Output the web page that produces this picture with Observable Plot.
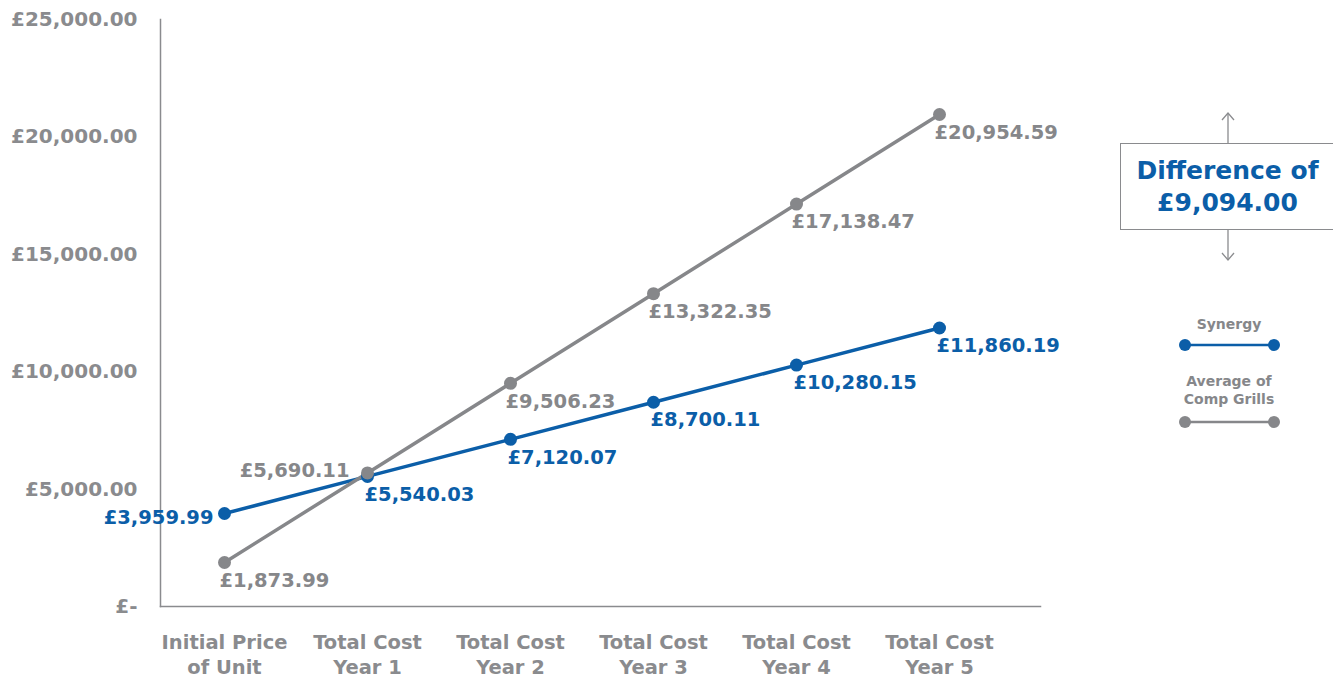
<!DOCTYPE html>
<html>
<head>
<meta charset="utf-8">
<script src="https://cdn.jsdelivr.net/npm/d3@7"></script>
<script src="https://cdn.jsdelivr.net/npm/@observablehq/plot@0.6"></script>
<style>
  html, body { margin: 0; padding: 0; background: #fff; overflow: hidden; }
  #wrap { position: relative; width: 1333px; height: 680px; font-family: "DejaVu Sans", sans-serif; }
  #chart { position: absolute; left: 0; top: 0; }
  #box { position: absolute; left: 1120px; top: 143px; width: 215px; height: 87px; border: 1.5px solid #8a8b8e; box-sizing: border-box;
         display: flex; flex-direction: column; justify-content: center; align-items: center; color: #0b5ea8; font-weight: bold; font-size: 25px; line-height: 32px; }
  #deco { position: absolute; left: 0; top: 0; }
</style>
</head>
<body>
<div id="wrap">
  <div id="chart"></div>
  <svg id="deco" width="1333" height="680"></svg>
  <div id="box"></div>
</div>
<script>
// ---- data ----
const categories = ["Initial Price of Unit", "Total Cost Year 1", "Total Cost Year 2", "Total Cost Year 3", "Total Cost Year 4", "Total Cost Year 5"];
const xTickLabels = ["Initial Price\nof Unit", "Total Cost\nYear 1", "Total Cost\nYear 2", "Total Cost\nYear 3", "Total Cost\nYear 4", "Total Cost\nYear 5"];
const seriesNames = ["Synergy", "Average of Comp Grills"];
const legendLabels = [["Synergy"], ["Average of", "Comp Grills"]];
const synergyValues = [3959.99, 5540.03, 7120.07, 8700.11, 10280.15, 11860.19];
const averageValues = [1873.99, 5690.11, 9506.23, 13322.35, 17138.47, 20954.59];
const yTicks = [0, 5000, 10000, 15000, 20000, 25000];
const yTickLabels = ["£-", "£5,000.00", "£10,000.00", "£15,000.00", "£20,000.00", "£25,000.00"];
const differenceLines = ["Difference of", "£9,094.00"];

// ---- styles ----
const BLUE = "#0b5ea8";
const GRAY = "#86878a";
const AXIS = "#8a8b8e";
const colors = [BLUE, GRAY];

const rows = [];
categories.forEach((c, i) => {
  rows.push({cat: c, i, series: seriesNames[0], value: synergyValues[i]});
  rows.push({cat: c, i, series: seriesNames[1], value: averageValues[i]});
});
const money = v => "£" + d3.format(",.2f")(v);
const isSyn = d => d.series === seriesNames[0];

const labelStyle = {x: "cat", y: "value", text: d => money(d.value), fill: "series", fontSize: 19.5, fontWeight: "bold"};

const plot = Plot.plot({
  width: 1333,
  height: 680,
  marginLeft: 160,
  marginRight: 293,
  marginTop: 19,
  marginBottom: 74,
  style: {fontFamily: "DejaVu Sans, sans-serif", fontSize: "20px", fontWeight: "bold", color: AXIS, background: "transparent"},
  x: {type: "point", domain: categories, range: [223, 940], padding: 0},
  y: {domain: [0, 25000]},
  color: {domain: seriesNames, range: colors},
  marks: [
    Plot.frame({anchor: "left", stroke: AXIS, strokeWidth: 1.5}),
    Plot.frame({anchor: "bottom", stroke: AXIS, strokeWidth: 1.5}),
    Plot.axisY({ticks: yTicks, tickFormat: d => yTickLabels[yTicks.indexOf(d)], tickSize: 0, tickPadding: 23, label: null, fontSize: 20}),
    Plot.axisX({tickFormat: d => xTickLabels[categories.indexOf(d)], tickSize: 0, tickPadding: 25, label: null, fontSize: 19.5, lineHeight: 1.28}),
    Plot.line(rows, {x: "cat", y: "value", z: "series", stroke: "series", strokeWidth: 3.5}),
    Plot.dot(rows, {x: "cat", y: "value", fill: "series", r: 6.5}),
    // Average labels: below-right, except year 1 (left)
    Plot.text(rows.filter(d => !isSyn(d) && d.i !== 1), {...labelStyle, textAnchor: "start", dx: -5, dy: 18}),
    Plot.text(rows.filter(d => !isSyn(d) && d.i === 1), {...labelStyle, textAnchor: "end", dx: -18, dy: -2}),
    // Synergy labels: initial to the left, others below-right
    Plot.text(rows.filter(d => isSyn(d) && d.i === 0), {...labelStyle, textAnchor: "end", dx: -11, dy: 4}),
    Plot.text(rows.filter(d => isSyn(d) && d.i !== 0), {...labelStyle, textAnchor: "start", dx: -3, dy: 18})
  ]
});
document.getElementById("chart").appendChild(plot);

// ---- difference box ----
const box = document.getElementById("box");
differenceLines.forEach(t => { const s = document.createElement("div"); s.textContent = t; box.appendChild(s); });

// ---- arrows & legend ----
const deco = d3.select("#deco");
const ax = 1228;
deco.append("line").attr("x1", ax).attr("x2", ax).attr("y1", 143).attr("y2", 113).attr("stroke", AXIS).attr("stroke-width", 1.3);
deco.append("path").attr("d", `M${ax-6},${120} L${ax},${113} L${ax+6},${120}`).attr("fill", "none").attr("stroke", AXIS).attr("stroke-width", 1.3);
deco.append("line").attr("x1", ax).attr("x2", ax).attr("y1", 230).attr("y2", 260).attr("stroke", AXIS).attr("stroke-width", 1.3);
deco.append("path").attr("d", `M${ax-6},${253} L${ax},${260} L${ax+6},${253}`).attr("fill", "none").attr("stroke", AXIS).attr("stroke-width", 1.3);

const legendItems = [{y: 345, textY: [324]}, {y: 422, textY: [381, 399]}];
legendItems.forEach((it, k) => {
  const g = deco.append("g");
  legendLabels[k].forEach((t, j) => {
    g.append("text").attr("x", 1229).attr("y", it.textY[j]).attr("dy", "0.35em").attr("text-anchor", "middle")
      .attr("font-family", "DejaVu Sans, sans-serif").attr("font-weight", "bold").attr("font-size", 14).attr("fill", GRAY).text(t);
  });
  g.append("line").attr("x1", 1185).attr("x2", 1274).attr("y1", it.y).attr("y2", it.y).attr("stroke", colors[k]).attr("stroke-width", 2.5);
  [1185, 1274].forEach(cx => g.append("circle").attr("cx", cx).attr("cy", it.y).attr("r", 6).attr("fill", colors[k]));
});
</script>
</body>
</html>
